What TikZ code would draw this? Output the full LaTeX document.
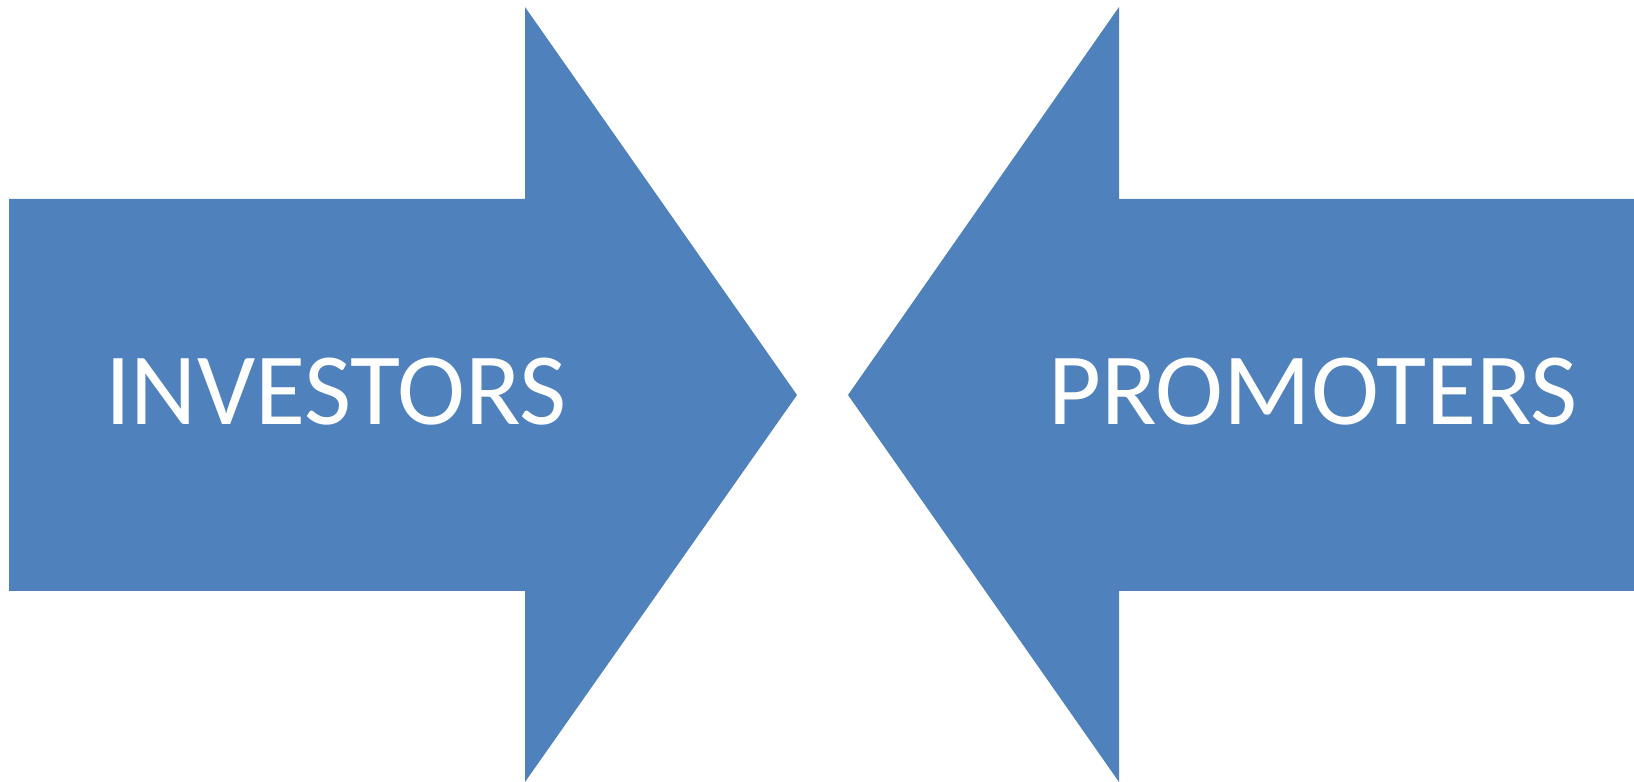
\documentclass[tikz,border=0pt]{standalone}
\usepackage{fontspec}
\setmainfont{Carlito}
\usepackage{tikz}
\definecolor{arrowblue}{HTML}{4F81BD}
\tikzset{
    bigarrow/.style={fill=arrowblue, draw=none},
    label/.style={text=white, anchor=base, inner sep=0pt,
        font=\fontsize{102.5}{110}\selectfont}
}

\begin{document}
\begin{tikzpicture}[x=1pt,y=1pt]
    % 画布
    \useasboundingbox (0,0) rectangle (1634,782);

    % 左箭头（指向右）
    \fill[bigarrow]
        (9,191) -- (525,191)
        -- (525,0) -- (797,387)
        -- (525,775) -- (525,583)
        -- (9,583) -- cycle;

    % 右箭头（指向左）
    \fill[bigarrow]
        (1634,191) -- (1119,191)
        -- (1119,0) -- (848,387)
        -- (1119,775) -- (1119,583)
        -- (1634,583) -- cycle;

    % 标注
    \node[label] (inv) at (336,357) {INVESTORS};
    \node[label] (pro) at (1313,357) {PROMOTERS};
\end{tikzpicture}
\end{document}
